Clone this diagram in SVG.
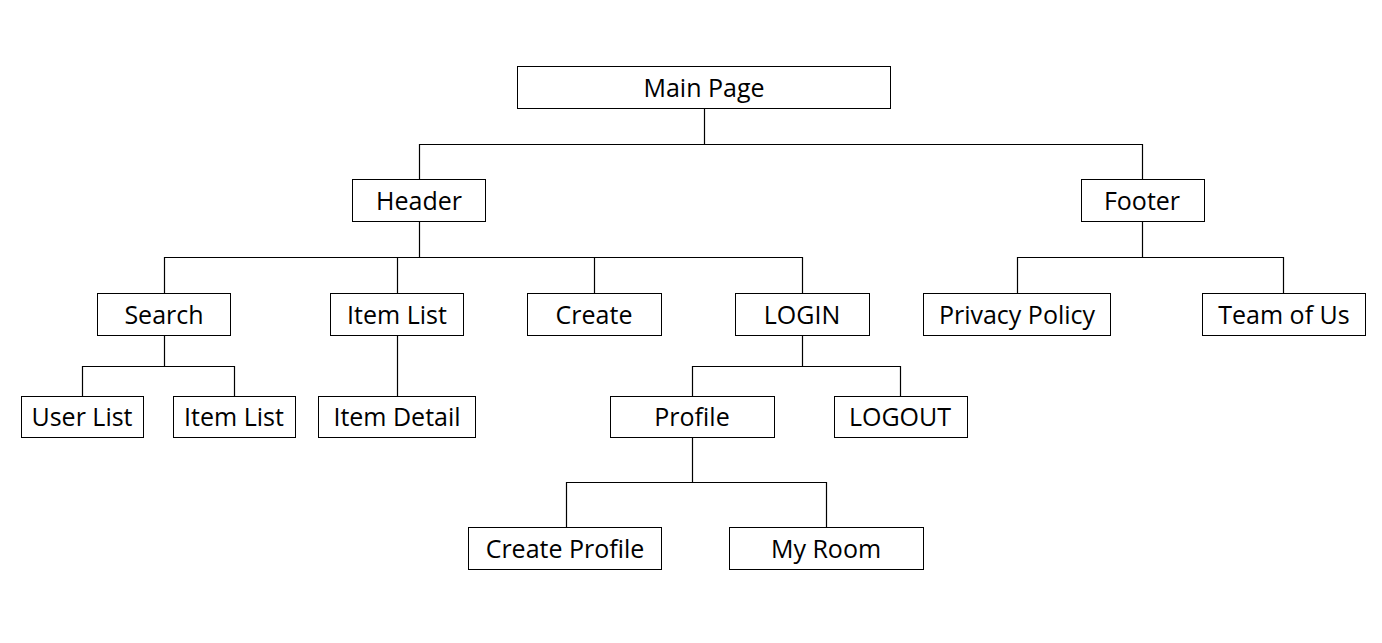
<svg xmlns="http://www.w3.org/2000/svg" width="1382" height="643" viewBox="0 0 1382 643">
<style>
.box{fill:#fff;stroke:#000;stroke-width:1}
.lbl{font-family:"Open Sans","Noto Sans",sans-serif;font-size:25px;fill:#000;text-anchor:middle}
.c{fill:none;stroke:#000;stroke-width:1.2}
</style>
<rect width="1382" height="643" fill="#fff"/>
<g id="connectors">
<path class="c" d="M704.5 108V144.5M419.5 179V144.5H1142.5V179"/>
<path class="c" d="M419.5 221V257.5M164.5 293V257.5H802.5V293M397.5 257.5V293M594.5 257.5V293"/>
<path class="c" d="M164.5 335V366.5M82.5 396V366.5H234.5V396"/>
<path class="c" d="M397.5 335V396"/>
<path class="c" d="M802.5 335V366.5M692.5 396V366.5H900.5V396"/>
<path class="c" d="M692.5 437V482.5M566.5 527V482.5H826.5V527"/>
<path class="c" d="M1142.5 221V257.5M1017.5 293V257.5H1283.5V293"/>
</g>
<g id="main"><rect class="box" x="517.5" y="66.5" width="373" height="42"/><text class="lbl" x="704" y="97">Main Page</text></g>
<g id="header"><rect class="box" x="352.5" y="179.5" width="133" height="42"/><text class="lbl" x="419" y="210">Header</text></g>
<g id="footer"><rect class="box" x="1081.5" y="179.5" width="123" height="42"/><text class="lbl" x="1142" y="210">Footer</text></g>
<g id="search"><rect class="box" x="97.5" y="293.5" width="133" height="42"/><text class="lbl" x="164" y="324">Search</text></g>
<g id="itemlist"><rect class="box" x="330.5" y="293.5" width="133" height="42"/><text class="lbl" x="397" y="324">Item List</text></g>
<g id="create"><rect class="box" x="527.5" y="293.5" width="134" height="42"/><text class="lbl" x="594" y="324">Create</text></g>
<g id="login"><rect class="box" x="735.5" y="293.5" width="134" height="42"/><text class="lbl" x="802" y="324">LOGIN</text></g>
<g id="privacy"><rect class="box" x="923.5" y="293.5" width="187" height="42"/><text class="lbl" x="1017" y="324">Privacy Policy</text></g>
<g id="team"><rect class="box" x="1202.5" y="293.5" width="163" height="42"/><text class="lbl" x="1284" y="324">Team of Us</text></g>
<g id="userlist"><rect class="box" x="21.5" y="396.5" width="122" height="41"/><text class="lbl" x="82" y="426">User List</text></g>
<g id="itemlist2"><rect class="box" x="173.5" y="396.5" width="122" height="41"/><text class="lbl" x="234" y="426">Item List</text></g>
<g id="itemdetail"><rect class="box" x="318.5" y="396.5" width="157" height="41"/><text class="lbl" x="397" y="426">Item Detail</text></g>
<g id="profile"><rect class="box" x="610.5" y="396.5" width="164" height="41"/><text class="lbl" x="692" y="426">Profile</text></g>
<g id="logout"><rect class="box" x="834.5" y="396.5" width="133" height="41"/><text class="lbl" x="900" y="426">LOGOUT</text></g>
<g id="createprofile"><rect class="box" x="468.5" y="527.5" width="193" height="42"/><text class="lbl" x="565" y="558">Create Profile</text></g>
<g id="myroom"><rect class="box" x="729.5" y="527.5" width="194" height="42"/><text class="lbl" x="826" y="558">My Room</text></g>
</svg>
